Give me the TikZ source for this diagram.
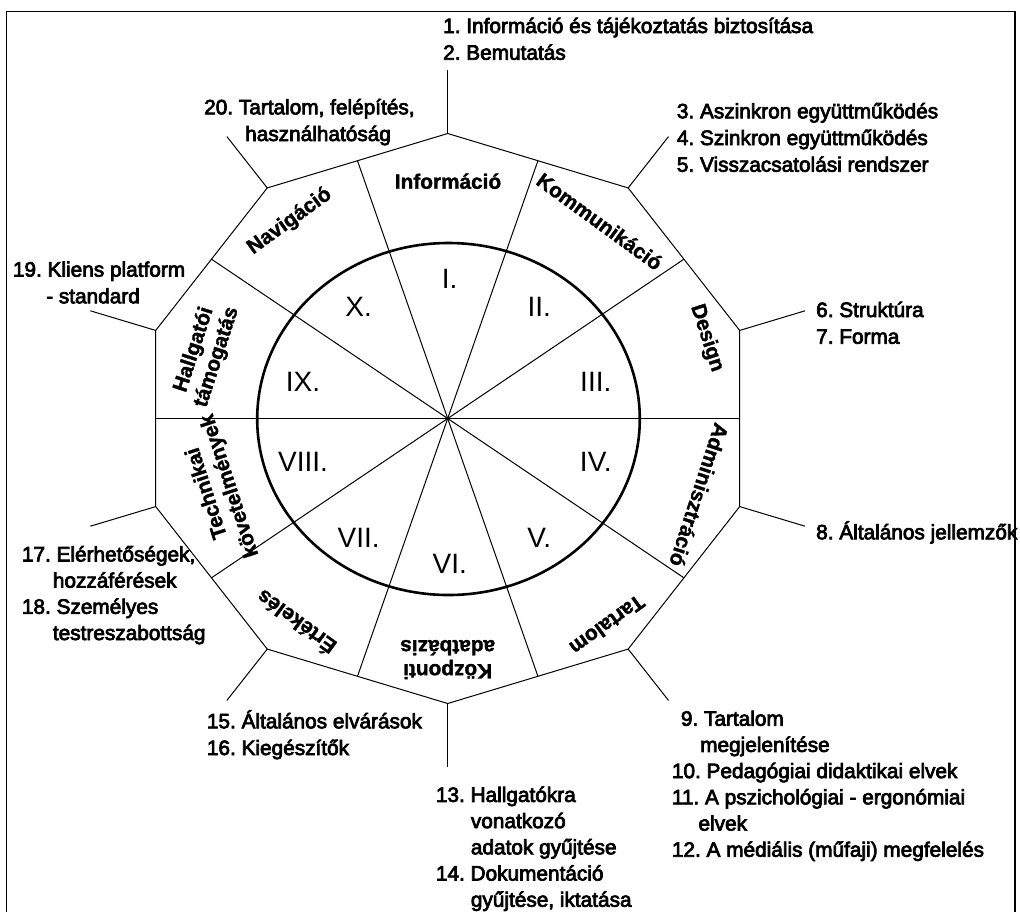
\documentclass[tikz,border=0pt]{standalone}
\usepackage{fontspec}
\setmainfont{Liberation Sans}
\newfontfamily\heavyreg{Liberation Sans}[FakeBold=3.5]
\newfontfamily\heavybold{Liberation Sans}[UprightFont=* Bold, FakeBold=1.5]
\frenchspacing
\usetikzlibrary{calc}
\tikzset{
  thinline/.style={line width=1pt, black},
  frameline/.style={line width=1.5pt, black},
  ringline/.style={line width=2.6pt, black},
  outer/.style={font=\heavyreg\frenchspacing\fontsize{20.8}{26.7}\selectfont, align=left, anchor=base west, inner sep=0pt},
  outertight/.style={outer, font=\heavyreg\frenchspacing\fontsize{20.8}{26.2}\selectfont},
  ring/.style={font=\heavybold\fontsize{20.8}{24}\selectfont, align=center, inner sep=0pt},
  roman/.style={font=\fontsize{28}{30}\selectfont, inner sep=0pt}
}
\begin{document}
\begin{tikzpicture}[x=1pt,y=-1pt]
\useasboundingbox (0,0) rectangle (1020,911);
\clip (0,0) rectangle (1020,911);
\draw[frameline] (6.5,11.5) rectangle (1015,950);

\coordinate (C) at (447.7,418.5);
\foreach \i in {0,...,9}{
  \pgfmathsetmacro\a{90+36*\i}
  \pgfmathsetmacro\vx{447.7+307*cos(\a)}
  \pgfmathsetmacro\vy{418.5-285*sin(\a)}
  \coordinate (v\i) at (\vx,\vy);
  \pgfmathsetmacro\ex{447.7+375.7*cos(\a)}
  \pgfmathsetmacro\ey{418.5-348.5*sin(\a)}
  \coordinate (e\i) at (\ex,\ey);
  \pgfmathsetmacro\b{108+36*\i}
  \pgfmathsetmacro\mx{447.7+291.97*cos(\b)}
  \pgfmathsetmacro\my{418.5-271.05*sin(\b)}
  \coordinate (m\i) at (\mx,\my);
}

% decagon
\draw[thinline, line join=miter] (v0) -- (v1) -- (v2) -- (v3) -- (v4) -- (v5) -- (v6) -- (v7) -- (v8) -- (v9) -- cycle;
% spokes and leaders
\foreach \i in {0,...,9}{
  \draw[thinline] (C) -- (m\i);
  \draw[thinline] (v\i) -- (e\i);
}
% inner circle
\draw[ringline] (448.5,419) ellipse [x radius=191.3pt, y radius=176pt];

% ring labels
\node[ring] (sInfo) at (448,181.2) {Információ};
\node[ring, rotate=-36] (sKomm) at (599.7,221.4) {Kommunikáció};
\node[ring, rotate=-72] (sDes) at (706.8,338.1) {Design};
\node[ring, rotate=-108] (sAdm) at (699.2,495) {Adminisztráció};
\node[ring, rotate=-144] (sTart) at (607.3,625.2) {Tartalom};
\node[ring, rotate=180] (sKozp) at (447.7,659.6) {Központi\\adatbázis};
\node[ring, rotate=144] (sErt) at (295.4,623.2) {Értékelés};
\node[ring, rotate=108] (sTech) at (218.9,489.3) {Technikai\\követelmények};
\node[ring, rotate=72] (sHall) at (205.5,353.4) {Hallgatói\\támogatás};
\node[ring, rotate=36] (sNav) at (289.7,221.4) {Navigáció};

% roman numerals
\node[roman] (r1) at (449.7,278.8) {I.};
\node[roman] (r2) at (539.2,306.4) {II.};
\node[roman] (r3) at (595.8,381.4) {III.};
\node[roman] (r4) at (595.8,461.8) {IV.};
\node[roman] (r5) at (539.2,537.9) {V.};
\node[roman] (r6) at (449.7,563.9) {VI.};
\node[roman] (r7) at (358.6,537.9) {VII.};
\node[roman] (r8) at (303,461.8) {VIII.};
\node[roman] (r9) at (303,381.4) {IX.};
\node[roman] (r10) at (358.6,306.4) {X.};

% outer texts (anchored at the baseline of the last line)
\node[outer] (t1) at (443,59.7) {1. Információ és tájékoztatás biztosítása\\2. Bemutatás};
\node[outer] (t2) at (676.7,171.7) {3. Aszinkron együttműködés\\4. Szinkron együttműködés\\5. Visszacsatolási rendszer};
\node[outer] (t3) at (816,343.7) {6. Struktúra\\7. Forma};
\node[outer] (t4) at (816,539.3) {8. Általános jellemzők};
\node[outertight] (t5) at (671.7,856.7) {\hspace*{9pt}9. Tartalom\\\hspace*{28.3pt}megjelenítése\\10. Pedagógiai didaktikai elvek\\11. A pszichológiai - ergonómiai\\\hspace*{26.6pt}elvek\\12. A médiális (műfaji) megfelelés};
\node[outertight] (t6) at (435.7,906.7) {13. Hallgatókra\\\hspace*{35pt}vonatkozó\\\hspace*{35pt}adatok gyűjtése\\14. Dokumentáció\\\hspace*{35pt}gyűjtése, iktatása};
\node[outer] (t7) at (206.7,755) {15. Általános elvárások\\16. Kiegészítők};
\node[outertight] (t8) at (21.7,640) {17. Elérhetőségek,\\\hspace*{31pt}hozzáférések\\18. Személyes\\\hspace*{31pt}testreszabottság};
\node[outer] (t9) at (12.7,303.3) {19. Kliens platform\\\hspace*{33.3pt}- standard};
\node[outer] (t10) at (204,141) {20. Tartalom, felépítés,\\\hspace*{41pt}használhatóság};
\end{tikzpicture}
\end{document}
